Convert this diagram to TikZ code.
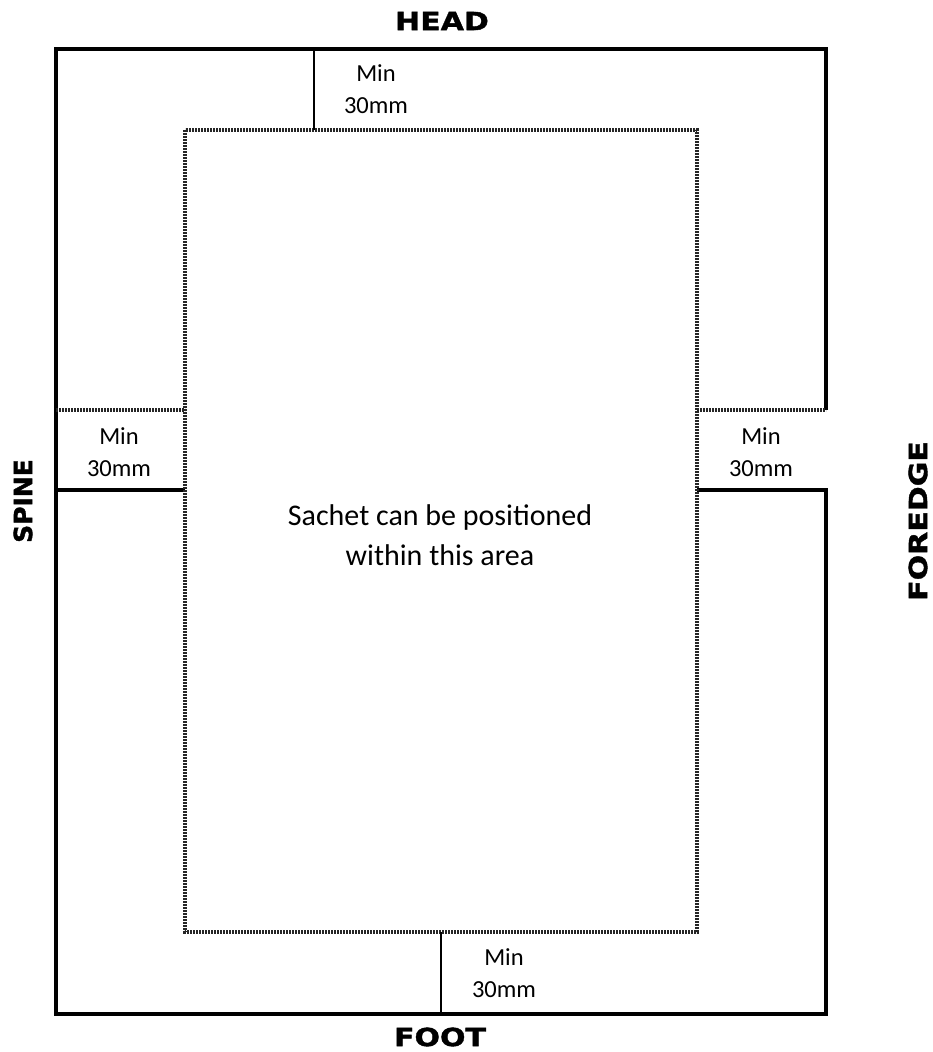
\documentclass[tikz,border=0pt]{standalone}
\usepackage{fontspec}
\setmainfont{Carlito}
\newfontfamily\edgefont[FakeStretch=1.2,BoldFeatures={FakeBold=1.5}]{DejaVu Sans}
\newfontfamily\spinefont[BoldFeatures={FakeBold=1.5}]{DejaVu Sans}

\tikzset{
  edge/.style={line width=4.5pt,line join=miter},
  margin/.style={line width=3.4pt,dash pattern=on 2pt off 1pt,black!85},
  rule/.style={line width=2.6pt},
  minlabel/.style={align=center,font=\fontsize{24.5}{32}\selectfont},
  edgelabel/.style={inner sep=0pt,font=\edgefont\bfseries\fontsize{25}{30}\selectfont}
}

\begin{document}
\begin{tikzpicture}[x=1pt,y=-1pt]

\useasboundingbox (0,0) rectangle (933,1052);

\draw[edge] (826,410) -- (826,49) -- (56,49) -- (56,1014) -- (826,1014) -- (826,490) -- (697,490);
\draw[edge] (56,490) -- (185,490);

\draw[margin] (185,130) rectangle (697,932);
\draw[margin] (56,410) -- (185,410);
\draw[margin] (697,410) -- (826,410);

\draw[rule] (314,49) -- (314,130);
\draw[rule] (441,932) -- (441,1014);

\node[minlabel] (minhead) at (376,89) {Min\\30mm};
\node[minlabel] (minspine) at (119,452) {Min\\30mm};
\node[minlabel] (minfore) at (761,452) {Min\\30mm};
\node[minlabel] (minfoot) at (504,973) {Min\\30mm};

\node[align=center,font=\fontsize{30}{40}\selectfont] (area) at (440,535) {Sachet can be positioned\\within this area};

\node[edgelabel] (head) at (442,21) {HEAD};
\node[edgelabel] (foot) at (440,1037) {FOOT};
\node[edgelabel,font=\spinefont\bfseries\fontsize{25}{30}\selectfont,rotate=90] (spine) at (23,501) {SPINE};
\node[edgelabel,rotate=90] (foredge) at (918,521) {FOREDGE};

\end{tikzpicture}
\end{document}
